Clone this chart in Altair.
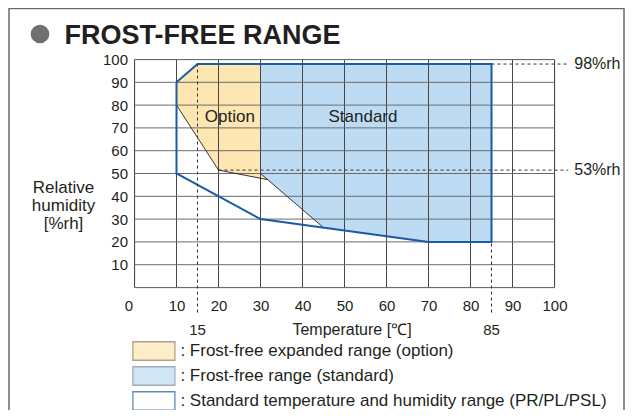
import altair as alt
import numpy as np
import pandas as pd

FONT = "Liberation Sans"
INK = "#231f20"
ORANGE = "#fde6b1"
SKY = "#bddcf4"
NAVY = "#1b5aa5"

# ---------------- data ----------------
x_ticks = [0, 10, 20, 30, 40, 50, 60, 70, 80, 90, 100]
y_ticks = [10, 20, 30, 40, 50, 60, 70, 80, 90, 100]
grid_y = [0, 10, 20, 30, 40, 50, 60, 70, 80, 90, 100]

# frost-free expanded range (option) polygon
option_temp = [10, 15, 30, 30, 31.7, 20, 10]
option_rh = [90, 98, 98, 50, 47.3, 51.5, 80]
# frost-free range (standard) polygon
standard_temp = [30, 85, 85, 70, 45, 30]
standard_rh = [98, 98, 20, 20, 26.25, 50]
# standard temperature and humidity range outline
outline_temp = [10, 15, 85, 85, 70, 30, 10, 10]
outline_rh = [90, 98, 98, 20, 20, 30, 50, 90]
# thin black boundaries
edge_option_temp = [10, 20, 31.7]
edge_option_rh = [80, 51.5, 47.3]
edge_standard_temp = [30, 45]
edge_standard_rh = [50, 26.25]

# reference humidity guides
guide_rh = [98, 51.5]
guide_rh_from = [85, 20]
guide_rh_labels = ["98%rh", "53%rh"]
# reference temperature guides
guide_temp = [15, 85]
guide_temp_top = [98, 20]
guide_temp_labels = ["15", "85"]

region_labels = ["Option", "Standard"]
region_label_temp = [22.7, 54.4]
region_label_rh = [75, 75]

legend_items = [
    "Frost-free expanded range (option)",
    "Frost-free range (standard)",
    "Standard temperature and humidity range (PR/PL/PSL)",
]
TITLE = "FROST-FREE RANGE"

# guides run a little past the plot frame
GUIDE_RIGHT = 103.3
GUIDE_BOTTOM = -11
LABEL_RIGHT = 104.7
LABEL_BOTTOM = -18.5

# ---------------- scales / axes ----------------
xscale = alt.Scale(domain=[0, 100], nice=False, zero=False)
yscale = alt.Scale(domain=[0, 100], nice=False, zero=False)
xaxis = alt.Axis(values=x_ticks, grid=False, domain=False, ticks=False, labelFlush=False,
                 labelFontSize=15, labelFont=FONT, labelColor=INK, labelPadding=11,
                 labelOffset={"condition": {"test": "datum.value === 0", "value": -6}, "value": 0},
                 title="Temperature [℃]", titleFont=FONT, titleFontSize=16,
                 titleFontWeight="normal", titleColor=INK, titleX=217, titleY=42,
                 titleBaseline="middle")
yaxis = alt.Axis(values=y_ticks, grid=False, domain=False, ticks=False, labelFlush=False,
                 labelFontSize=15, labelFont=FONT, labelColor=INK, labelPadding=7,
                 title=["Relative", "humidity", "[%rh]"], titleFont=FONT, titleFontSize=17,
                 titleFontWeight="normal", titleColor=INK, titleAngle=0,
                 titleAlign="center", titleBaseline="top", titleX=-71.5, titleY=120,
                 titleLineHeight=18)


def X(f):
    return alt.X(f, type="quantitative", scale=xscale, axis=xaxis)


def Y(f):
    return alt.Y(f, type="quantitative", scale=yscale, axis=yaxis)


def poly(t, r):
    return pd.DataFrame({"temp": t, "rh": r, "i": list(range(len(t)))})


one = pd.DataFrame({"k": [0]})

frame = alt.Chart(one).mark_rect(fillOpacity=0, stroke="#6b6b6b", strokeWidth=1.5).encode(
    x=alt.value(-125.5), x2=alt.value(489.5), y=alt.value(-51), y2=alt.value(420))

option_fill = alt.Chart(poly(option_temp, option_rh)).mark_line(
    fill=ORANGE, strokeOpacity=0).encode(x=X("temp"), y=Y("rh"), order="i:Q")
standard_fill = alt.Chart(poly(standard_temp, standard_rh)).mark_line(
    fill=SKY, strokeOpacity=0).encode(x=X("temp"), y=Y("rh"), order="i:Q")

vgrid = alt.Chart(pd.DataFrame({"t": x_ticks})).mark_rule(color="#474747", strokeWidth=1).encode(
    x=X("t"), y=alt.Y(datum=0, type="quantitative", scale=yscale, axis=yaxis),
    y2=alt.Y2(datum=100))
hgrid = alt.Chart(pd.DataFrame({"r": grid_y})).mark_rule(color="#6a6a6a", strokeWidth=1).encode(
    y=Y("r"), x=alt.X(datum=0, type="quantitative", scale=xscale, axis=xaxis),
    x2=alt.X2(datum=100))

edges = pd.concat([
    poly(edge_option_temp, edge_option_rh).assign(g="a"),
    poly(edge_standard_temp, edge_standard_rh).assign(g="b"),
])
edge_lines = alt.Chart(edges).mark_line(color="#231f20", strokeWidth=0.9).encode(
    x=X("temp"), y=Y("rh"), order="i:Q", detail="g:N")

outline = alt.Chart(poly(outline_temp, outline_rh)).mark_line(
    color=NAVY, strokeWidth=2, strokeJoin="miter").encode(x=X("temp"), y=Y("rh"), order="i:Q")

hguides = alt.Chart(pd.DataFrame({"rh": guide_rh, "x0": guide_rh_from,
                                  "x1": [GUIDE_RIGHT] * len(guide_rh)})).mark_rule(
    color="#333333", strokeDash=[3, 3], strokeWidth=1).encode(
    y=Y("rh"), x=X("x0"), x2="x1:Q")
vguides = alt.Chart(pd.DataFrame({"t": guide_temp, "y1": guide_temp_top,
                                  "y0": [GUIDE_BOTTOM] * len(guide_temp)})).mark_rule(
    color="#333333", strokeDash=[3, 3], strokeWidth=1).encode(
    x=X("t"), y=Y("y0"), y2="y1:Q")

rh_text = alt.Chart(pd.DataFrame({"rh": guide_rh, "lab": guide_rh_labels,
                                  "x": [LABEL_RIGHT] * len(guide_rh)})).mark_text(
    align="left", baseline="middle", fontSize=16, font=FONT, color=INK).encode(
    x=X("x"), y=Y("rh"), text="lab:N")
temp_text = alt.Chart(pd.DataFrame({"t": guide_temp, "lab": guide_temp_labels,
                                    "y": [LABEL_BOTTOM] * len(guide_temp)})).mark_text(
    align="center", baseline="middle", fontSize=15, font=FONT, color=INK).encode(
    x=X("t"), y=Y("y"), text="lab:N")
region_text = alt.Chart(pd.DataFrame({"t": region_label_temp, "rh": region_label_rh,
                                      "lab": region_labels})).mark_text(
    align="center", baseline="middle", fontSize=17, font=FONT, color=INK).encode(
    x=X("t"), y=Y("rh"), text="lab:N")

# swatch: nominal size 14 px, path stretched to ~42 x 18.5 px
LEG = alt.Legend(orient="none", legendX=10.9, legendY=283, title=None,
                 symbolType="M-3,-1.32H3V1.32H-3Z", symbolSize=196,
                 symbolStrokeWidth=1.3, labelFontSize=17, labelFont=FONT,
                 labelColor=INK, labelOffset=18, labelExpr="'\u2009: ' + datum.label",
                 rowPadding=0, padding=0, labelLimit=600)
legend_layer = alt.Chart(pd.DataFrame({"item": legend_items,
                                       "nx": [np.nan] * 3})).mark_point(
    filled=True, shape="square").encode(
    x=X("nx"), y=Y("nx"),
    fill=alt.Fill("item:N", scale=alt.Scale(domain=legend_items,
                                            range=[ORANGE, SKY, "#ffffff"]), legend=LEG),
    stroke=alt.Stroke("item:N", scale=alt.Scale(domain=legend_items,
                                                range=["#8c7a5c", "#7d8a96", NAVY]), legend=LEG))

bullet = alt.Chart(one).mark_point(filled=True, size=346, color="#707070", opacity=1).encode(
    x=alt.value(-94.5), y=alt.value(-25.5))
title = alt.Chart(one).mark_text(text=TITLE, align="left", baseline="alphabetic",
                                 fontSize=27, fontWeight="bold", font=FONT, color=INK).encode(
    x=alt.value(-70), y=alt.value(-15.2))

chart = alt.layer(
    frame, option_fill, standard_fill, vgrid, hgrid, edge_lines, outline,
    hguides, vguides, rh_text, temp_text, region_text, legend_layer, bullet, title
).properties(
    width=420, height=228,
    autosize=alt.AutoSizeParams(type="none"),
    padding={"left": 126.5, "top": 51.5, "right": 70.5, "bottom": 122.5},
).configure_view(stroke=None).configure(background="white")

chart.save("out.html", embed_options={"renderer": "svg", "actions": False})
